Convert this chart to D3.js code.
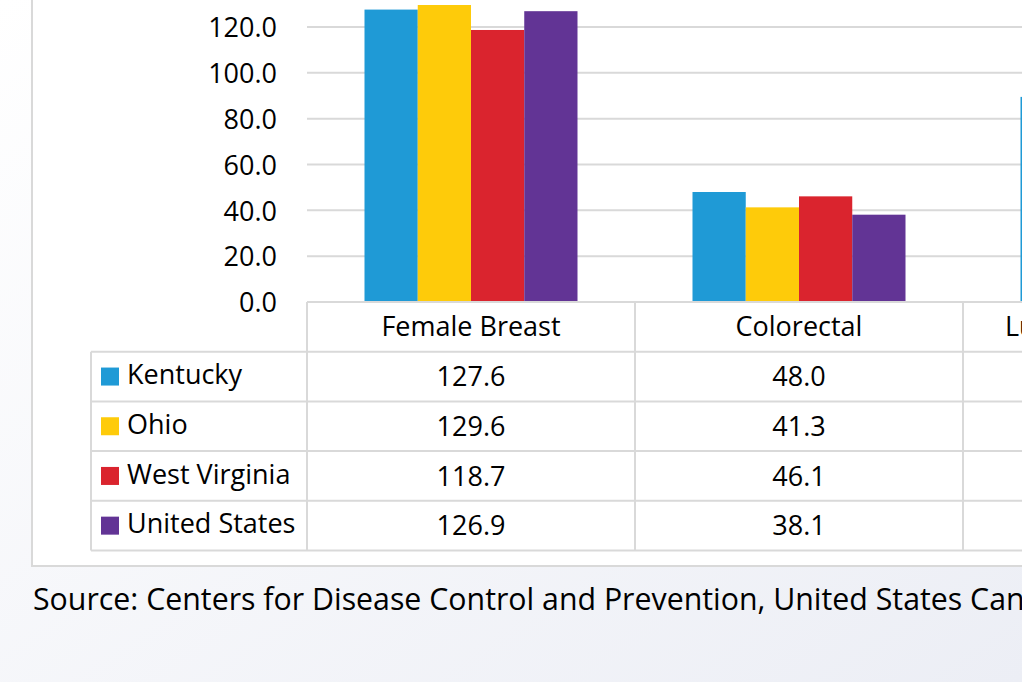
<!DOCTYPE html>
<html>
<head>
<meta charset="utf-8">
<script src="https://cdn.jsdelivr.net/npm/d3@7"></script>
<style>
  html, body { margin: 0; padding: 0; overflow: hidden; }
  body { width: 1022px; height: 682px; }
  text { font-family: "Open Sans", Lato, sans-serif; fill: #000; }
</style>
</head>
<body>
<svg id="chart" width="1022" height="682"></svg>
<script>
// Data (rate per 100,000)
const categories = ['Female Breast', 'Colorectal', 'Lung and Bronchus'];
const states = ['Kentucky', 'Ohio', 'West Virginia', 'United States'];
const colors = ['#1f9ad6', '#fecb0a', '#da242e', '#623495'];
const kentucky = [127.6, 48.0, 89.5];
const ohio = [129.6, 41.3, 68.4];
const westVirginia = [118.7, 46.1, 78.2];
const unitedStates = [126.9, 38.1, 57.3];
const yTicks = [0, 20, 40, 60, 80, 100, 120];
const source = 'Source: Centers for Disease Control and Prevention, United States Cancer Statistics';

const seriesValues = [kentucky, ohio, westVirginia, unitedStates];

const svg = d3.select('#chart');

// Background
const defs = svg.append('defs');
const grad = defs.append('linearGradient')
  .attr('id', 'bg')
  .attr('x1', '0%').attr('y1', '0%')
  .attr('x2', '100%').attr('y2', '100%');
grad.append('stop').attr('offset', '0%').attr('stop-color', '#ffffff');
grad.append('stop').attr('offset', '100%').attr('stop-color', '#eceef5');
svg.append('rect').attr('width', 1022).attr('height', 682).attr('fill', 'url(#bg)');

// Chart frame
svg.append('rect')
  .attr('x', 32).attr('y', -20)
  .attr('width', 1100).attr('height', 586)
  .attr('fill', '#fff')
  .attr('stroke', '#d9d9d9')
  .attr('stroke-width', 2);

// Layout
const plotLeft = 307;
const colWidth = 328;
const baseY = 302;
const rowH = 49.7;
const legendLeft = 91;
const fs = 27;

const x = d3.scaleBand()
  .domain(categories)
  .range([plotLeft, plotLeft + colWidth * categories.length]);

const groupW = 213;
const x1 = d3.scaleBand()
  .domain(states)
  .range([(colWidth - groupW) / 2, (colWidth + groupW) / 2]);

const y = d3.scaleLinear()
  .domain([0, 140])
  .range([baseY, baseY - 140 * 275 / 120]);

// Gridlines
svg.append('g')
  .selectAll('line')
  .data(yTicks.slice(1))
  .join('line')
  .attr('x1', plotLeft).attr('x2', 1300)
  .attr('y1', d => y(d)).attr('y2', d => y(d))
  .attr('stroke', '#d9d9d9')
  .attr('stroke-width', 2);

// Y axis labels
const yAxis = d3.axisLeft(y).tickValues(yTicks).tickFormat(d3.format('.1f')).tickSize(0).tickPadding(0);
const yg = svg.append('g')
  .attr('transform', 'translate(277,0)')
  .call(yAxis);
yg.select('.domain').remove();
yg.selectAll('text')
  .style('font-size', fs + 'px')
  .style('font-family', '"Open Sans", sans-serif')
  .attr('fill', '#000')
  .attr('dy', '0.36em');

// Bars
const groups = svg.append('g')
  .selectAll('g')
  .data(categories)
  .join('g')
  .attr('transform', d => `translate(${x(d)},0)`);

groups.selectAll('rect')
  .data((c, ci) => states.map((s, si) => ({ s, si, v: seriesValues[si][ci] })))
  .join('rect')
  .attr('x', d => x1(d.s))
  .attr('width', x1.bandwidth())
  .attr('y', d => y(d.v))
  .attr('height', d => y(0) - y(d.v))
  .attr('fill', d => colors[d.si]);

// Data table
const table = svg.append('g');
const lineColor = '#d9d9d9';
const right = plotLeft + colWidth * categories.length;

// baseline / header top
table.append('line')
  .attr('x1', plotLeft).attr('x2', right)
  .attr('y1', baseY).attr('y2', baseY)
  .attr('stroke', lineColor).attr('stroke-width', 2);

// row lines
table.selectAll('.hrow')
  .data(d3.range(1, states.length + 2))
  .join('line')
  .attr('class', 'hrow')
  .attr('x1', legendLeft).attr('x2', right)
  .attr('y1', k => baseY + k * rowH).attr('y2', k => baseY + k * rowH)
  .attr('stroke', lineColor).attr('stroke-width', 2);

// vertical lines
table.append('line')
  .attr('x1', legendLeft).attr('x2', legendLeft)
  .attr('y1', baseY + rowH).attr('y2', baseY + rowH * (states.length + 1))
  .attr('stroke', lineColor).attr('stroke-width', 2);
table.selectAll('.vcol')
  .data(d3.range(categories.length + 1))
  .join('line')
  .attr('class', 'vcol')
  .attr('x1', k => plotLeft + k * colWidth).attr('x2', k => plotLeft + k * colWidth)
  .attr('y1', baseY).attr('y2', baseY + rowH * (states.length + 1))
  .attr('stroke', lineColor).attr('stroke-width', 2);

// header labels
table.selectAll('.hdr')
  .data(categories)
  .join('text')
  .attr('class', 'hdr')
  .attr('x', d => x(d) + colWidth / 2)
  .attr('y', baseY + rowH / 2)
  .attr('dy', '0.34em')
  .attr('text-anchor', 'middle')
  .style('font-size', fs + 'px')
  .text(d => d);

// legend keys + row names
const rows = table.selectAll('.row')
  .data(states)
  .join('g')
  .attr('class', 'row')
  .attr('transform', (d, i) => `translate(0,${baseY + rowH * (i + 1.5)})`);

rows.append('rect')
  .attr('x', 101).attr('y', -9)
  .attr('width', 18).attr('height', 18)
  .attr('fill', (d, i) => colors[i]);

rows.append('text')
  .attr('x', 127)
  .attr('dy', '0.28em')
  .style('font-size', fs + 'px')
  .text(d => d);

// values
rows.each(function (s, si) {
  d3.select(this).selectAll('.val')
    .data(categories)
    .join('text')
    .attr('class', 'val')
    .attr('x', c => x(c) + colWidth / 2)
    .attr('dy', '0.36em')
    .attr('text-anchor', 'middle')
    .style('font-size', fs + 'px')
    .text((c, ci) => d3.format('.1f')(seriesValues[si][ci]));
});

// Source note
svg.append('text')
  .attr('x', 33)
  .attr('y', 610)
  .style('font-size', '30.3px')
  .text(source);
</script>
</body>
</html>
